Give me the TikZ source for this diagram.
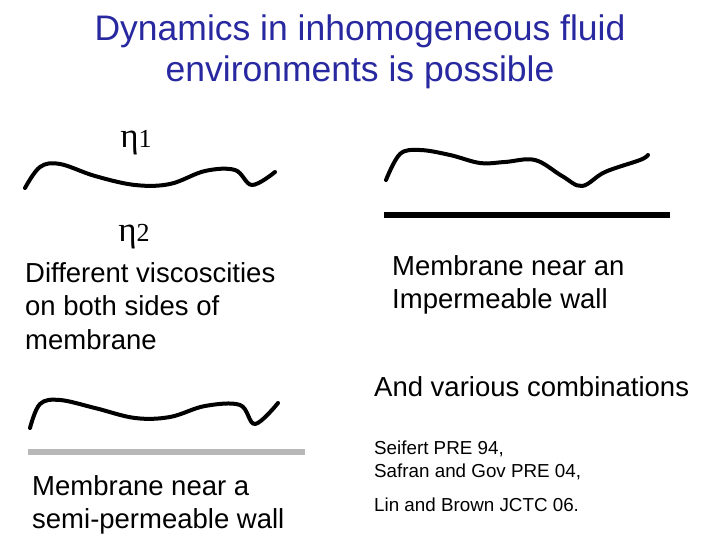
\documentclass[tikz,border=0pt]{standalone}
\usepackage{fontspec}
\setmainfont{Liberation Sans}
\newfontfamily\serifgr{Liberation Serif}
\begin{document}
\begin{tikzpicture}[x=1pt,y=-1pt,
  txt/.style={anchor=west,inner sep=0pt,font=\fontsize{27.5}{33.5}\selectfont,align=left},
  small/.style={anchor=west,inner sep=0pt,font=\fontsize{18.8}{23}\selectfont,align=left},
  memb/.style={line width=4pt,line cap=round,line join=round}]
\useasboundingbox (0,0) rectangle (720,540);
\definecolor{ttl}{RGB}{40,40,160}
\node (title) at (360,52) [inner sep=0pt,align=center,text=ttl,font=\fontsize{35.5}{41}\selectfont] {Dynamics in inhomogeneous fluid\\environments is possible};
\node (e1) at (136,143) [inner sep=0pt,font=\serifgr\fontsize{35}{35}\selectfont] {η\fontsize{26}{26}\selectfont 1};
\node (e2) at (134,237) [inner sep=0pt,font=\serifgr\fontsize{35}{35}\selectfont] {η\fontsize{26}{26}\selectfont 2};
\draw[memb] plot[smooth,tension=0.6] coordinates {(25,188) (40,167) (60,164) (95,176) (135,185) (170,184) (205,171) (235,170) (252,185) (275,172)};
\draw[memb] plot[smooth,tension=0.6] coordinates {(386,180) (400,154) (420,150) (450,155) (480,163) (505,162) (535,160) (562,176) (582,186) (605,172) (640,160) (648,155)};
\draw[memb] plot[smooth,tension=0.6] coordinates {(30,428) (40,404) (60,400) (95,408) (135,418) (170,417) (205,406) (240,405) (255,424) (278,403)};
\draw[line width=6pt] (384,215) coordinate (w1) -- (670,215) coordinate (w2);
\draw[line width=6pt,color=black!28] (28,452) coordinate (g1) -- (305,452) coordinate (g2);
\node (t1) [txt] at (25,306) {Different viscoscities\\on both sides of\\membrane};
\node (t2) [txt] at (392,285) {Membrane near an\\Impermeable wall};
\node (t3) [txt] at (374,387) {And various combinations};
\node (t4) [small] at (374,460) {Seifert PRE 94,\\Safran and Gov PRE 04,};
\node (t5) [small] at (374,505) {Lin and Brown JCTC 06.};
\node (t6) [txt] at (32,505) {Membrane near a\\semi-permeable wall};
\end{tikzpicture}
\end{document}
